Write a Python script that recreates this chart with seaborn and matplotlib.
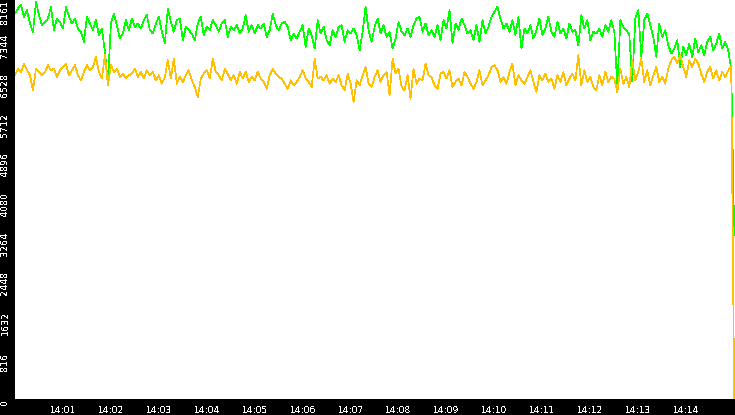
import matplotlib
matplotlib.use("Agg")
import matplotlib.pyplot as plt
import matplotlib.dates as mdates
from matplotlib.transforms import ScaledTranslation
import numpy as np
import pandas as pd
import seaborn as sns

# ─────────────────────────────────────────────
# DATA (one sample every ~3.75 s)
# ─────────────────────────────────────────────
upper_vals = [
    # 14:00:00 - 14:02:30
    7947, 8050, 8120, 7879, 8016, 7741, 7570, 8190, 7913, 7706,
    7775, 7844, 8085, 7603, 7844, 7775, 7637, 8085, 7879, 7741,
    7844, 7637, 7570, 7362, 7879, 7741, 7603, 7810, 7500, 7637,
    7155, 6500, 7741, 7947, 7706, 7431, 7534, 7810, 7603, 7844,
    # 14:02:30 - 14:05:00
    7672, 7741, 7637, 7810, 7913, 7603, 7534, 7741, 7879, 7570,
    7327, 8050, 7775, 7570, 7810, 7844, 7396, 7672, 7603, 7534,
    7396, 7741, 7879, 7500, 7672, 7603, 7810, 7706, 7570, 7741,
    7810, 7465, 7672, 7603, 7706, 7534, 7637, 7913, 7570, 7706,
    # 14:05:00 - 14:07:30
    7534, 7706, 7637, 7741, 7465, 7603, 7947, 7706, 7603, 7741,
    7775, 7672, 7396, 7534, 7431, 7570, 7706, 7258, 7637, 7500,
    7224, 7810, 7534, 7672, 7396, 7293, 7603, 7465, 7672, 7706,
    7362, 7603, 7534, 7637, 7500, 7190, 7570, 8085, 7603, 7362,
    # 14:07:30 - 14:10:00
    7672, 7844, 7534, 7706, 7465, 7570, 7224, 7431, 7775, 7570,
    7500, 7637, 7465, 7706, 7844, 7879, 7570, 7741, 7500, 7603,
    7465, 7706, 7396, 7810, 7637, 8016, 7327, 7741, 7603, 7844,
    7706, 7534, 7603, 7396, 7706, 7362, 7810, 7534, 7672, 7879,
    # 14:10:00 - 14:12:30
    7982, 8085, 7844, 7637, 7741, 7570, 7810, 7500, 7879, 7224,
    7637, 7534, 7706, 7431, 7603, 7844, 7500, 7637, 7879, 7570,
    7465, 7775, 7534, 7637, 7431, 7741, 7570, 7603, 7293, 7913,
    7637, 7810, 7396, 7570, 7534, 7637, 7465, 7706, 7570, 7810,
    # 14:12:30 - 14:15:00
    7570, 6430, 7810, 7672, 7603, 7500, 6550, 7844, 8016, 7052,
    7810, 7947, 7706, 7465, 7052, 7741, 7465, 7603, 7293, 7121,
    7224, 7396, 6845, 7258, 7086, 7327, 7052, 7431, 7155, 7293,
    7086, 7362, 7465, 7190, 7327, 7534, 7224, 7362, 7190, 6810,
    3370,
]

lower_vals = [
    6673, 6810, 6742, 6914, 6776, 6673, 6363, 6810, 6742, 6673,
    6742, 6880, 6776, 6810, 6638, 6776, 6845, 6914, 6673, 6776,
    6880, 6673, 6569, 6742, 6880, 6776, 6845, 7052, 6742, 6604,
    7086, 6466, 6880, 6742, 6810, 6638, 6707, 6604, 6673, 6707,
    6810, 6638, 6742, 6604, 6776, 6673, 6742, 6569, 6673, 6500,
    6638, 6983, 6604, 7018, 6500, 6638, 6535, 6673, 6776, 6569,
    6432, 6225, 6604, 6707, 6776, 6604, 7018, 6742, 6673, 6569,
    6810, 6707, 6569, 6673, 6500, 6742, 6604, 6742, 6535, 6638,
    6569, 6742, 6604, 6535, 6397, 6673, 6810, 6707, 6638, 6604,
    6500, 6397, 6569, 6466, 6535, 6638, 6776, 6604, 6535, 6432,
    7018, 6604, 6638, 6569, 6673, 6500, 6604, 6535, 6673, 6466,
    6363, 6707, 6500, 6121, 6569, 6466, 6673, 6845, 6500, 6432,
    6638, 6776, 6535, 6673, 6742, 6260, 7018, 6707, 6810, 6432,
    6363, 6673, 6190, 6810, 6500, 6604, 6569, 6914, 6673, 6638,
    6466, 6397, 6707, 6742, 6604, 6776, 6432, 6535, 6604, 6466,
    6742, 6638, 6500, 6397, 6535, 6776, 6466, 6569, 6673, 6845,
    6880, 6776, 6535, 6638, 6500, 6742, 6914, 6466, 6673, 6569,
    6500, 6638, 6776, 6535, 6328, 6673, 6569, 6707, 6535, 6604,
    6397, 6673, 6535, 6742, 6466, 6604, 6707, 6569, 7086, 6466,
    6776, 6535, 6638, 6432, 6363, 6673, 6466, 6742, 6535, 6638,
    6604, 6328, 6810, 6500, 6638, 6432, 6983, 6569, 6742, 7018,
    6535, 6776, 6466, 6673, 6845, 6535, 6638, 6500, 6810, 6983,
    7052, 6914, 7086, 6845, 6638, 6983, 6845, 7018, 6914, 6707,
    6535, 6742, 6845, 6604, 6776, 6569, 6742, 6638, 6776, 6845,
    0,
]

y_ticks = [0, 816, 1632, 2448, 3264, 4080, 4896, 5712, 6528, 7344, 8161]
y_tick_labels = [str(v) for v in y_ticks]

start = pd.Timestamp("2024-01-01 14:00:00")
end = pd.Timestamp("2024-01-01 14:15:00")
times = pd.date_range(start, end, periods=len(upper_vals))

df = pd.concat([
    pd.DataFrame({"time": times, "value": upper_vals, "series": "upper"}),
    pd.DataFrame({"time": times, "value": lower_vals, "series": "lower"}),
])

# ─────────────────────────────────────────────
# PLOT
# ─────────────────────────────────────────────
sns.set_style("white")
plt.rcParams["lines.antialiased"] = False
plt.rcParams["text.antialiased"] = False
plt.rcParams["font.family"] = ["DejaVu Sans"]

fig = plt.figure(figsize=(7.35, 4.15), dpi=100, facecolor="black")
ax = fig.add_axes([15 / 735, 16 / 415, 720 / 735, 399 / 415])
ax.set_facecolor("white")

sns.lineplot(data=df, x="time", y="value", hue="series",
             hue_order=["upper", "lower"],
             palette=["#00ff00", "#ffc000"],
             estimator=None, linewidth=0.5, legend=False, ax=ax)

ax.set_xlim(start, end + pd.Timedelta(seconds=1))
ax.set_ylim(0, 8225)
ax.set_xlabel("")
ax.set_ylabel("")
for s in ax.spines.values():
    s.set_visible(False)

ax.xaxis.set_major_locator(mdates.MinuteLocator(byminute=range(1, 15)))
ax.xaxis.set_major_formatter(mdates.DateFormatter("%H:%M"))
ax.set_yticks(y_ticks)
ax.set_yticklabels(y_tick_labels)

ax.tick_params(axis="x", colors="white", length=4.3, width=0.72,
               pad=0.8, labelsize=6.6, direction="out")
ax.tick_params(axis="y", colors="white", length=3, width=0.72,
               pad=1.0, labelsize=6.8, labelrotation=90, direction="out")

labels = ax.get_yticklabels()
for i, lbl in enumerate(labels):
    lbl.set_va("center")
    dy = -3 if i < len(labels) - 1 else -9   # keep the top label inside
    lbl.set_transform(lbl.get_transform()
                      + ScaledTranslation(0, dy / 100, fig.dpi_scale_trans))

fig.savefig("out.png", dpi=100, facecolor="black")
